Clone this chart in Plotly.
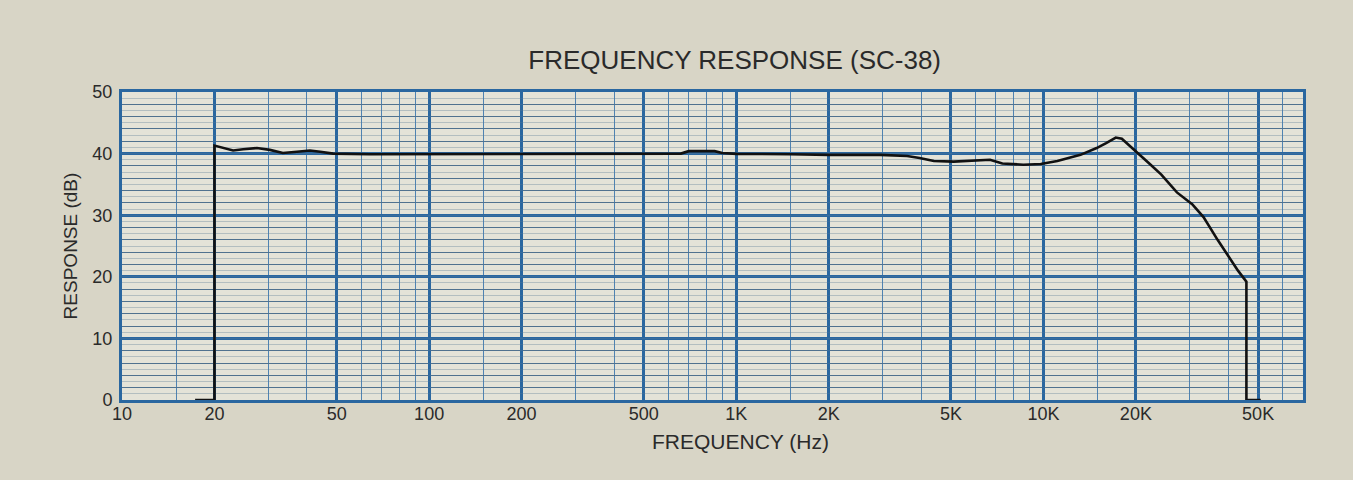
import numpy as np
import plotly.graph_objects as go

# ---- data ----
freq_hz = [17.3, 20, 20, 21.3, 23, 24.8, 27.5, 30.3, 33.4, 37.1, 40.9, 44.2, 48.7, 64,
           100, 200, 400, 600, 660, 700, 850, 900, 1000, 1500, 2000, 2940, 3600, 3950,
           4400, 5100, 6200, 6700, 7350, 8600, 9800, 11100, 13200, 14900, 16000, 17200,
           18000, 20100, 22200, 24200, 27200, 30500, 33200, 36900, 40800, 43000, 45800,
           45800, 51000]
response_db = [0, 0, 41.3, 40.9, 40.5, 40.7, 40.9, 40.6, 40.1, 40.3, 40.5, 40.3, 40.0, 39.9,
               39.9, 39.9, 39.9, 39.9, 40.0, 40.4, 40.4, 40.1, 39.95, 39.9, 39.8, 39.8, 39.6, 39.3,
               38.8, 38.7, 39.0, 39.0, 38.4, 38.2, 38.3, 38.8, 39.8, 40.9, 41.7, 42.6,
               42.4, 40.3, 38.3, 36.6, 33.7, 31.8, 29.7, 26.0, 22.7, 21.0, 19.2,
               0, 0]

x_major_vals = [10, 20, 50, 100, 200, 500, 1000, 2000, 5000, 10000, 20000, 50000]
x_major_text = ["10", "20", "50", "100", "200", "500", "1K", "2K", "5K", "10K", "20K", "50K"]
x_minor_vals = [m * d for d in (10, 100, 1000, 10000) for m in (1.5, 3, 4, 6, 7, 8, 9)]
y_major_vals = [0, 10, 20, 30, 40, 50]
x_range_hz = [10, 70000]

FONT = "Liberation Sans, Arial, sans-serif"
BLUE = "#2a67a0"
TXT = "#2a2a2a"
PAPER = "#d8d5c6"

fig = go.Figure()
fig.add_trace(go.Scatter(x=freq_hz, y=response_db, mode="lines",
                         line=dict(color="#111111", width=2.6), hoverinfo="x+y",
                         showlegend=False))
# faint 1 dB grid via an overlaid axis
fig.add_trace(go.Scatter(x=[x_range_hz[0]], y=[0], yaxis="y2", mode="markers",
                         marker=dict(opacity=0), showlegend=False, hoverinfo="skip"))

fig.update_layout(
    width=1353, height=480,
    paper_bgcolor=PAPER,
    plot_bgcolor="#e4e3d8",
    margin=dict(l=122, r=50, t=92, b=80),
    font=dict(family=FONT, color=TXT, size=18),
    title=dict(text="FREQUENCY RESPONSE (SC-38)", x=0.543, xanchor="center",
               y=0.875, yanchor="middle", xref="container", yref="container",
               font=dict(size=26, color=TXT)),
    xaxis=dict(type="log", range=[np.log10(x_range_hz[0]), np.log10(x_range_hz[1])],
               tickmode="array", tickvals=x_major_vals, ticktext=x_major_text,
               showgrid=True, gridcolor=BLUE, gridwidth=2.8,
               minor=dict(tickmode="array", tickvals=x_minor_vals, showgrid=True,
                          gridcolor="#4f83b2", gridwidth=1.2),
               showline=True, linecolor=BLUE, linewidth=3, mirror=True,
               zeroline=False, ticks="", ticklabelstandoff=-5),
    yaxis=dict(range=[0, 50], tickmode="array", tickvals=y_major_vals,
               showgrid=True, gridcolor=BLUE, gridwidth=2.8,
               minor=dict(dtick=2, showgrid=True, gridcolor="#4c6f8c", gridwidth=1.1),
               showline=True, linecolor=BLUE, linewidth=3, mirror=True,
               zeroline=False, ticks="", ticklabelstandoff=3,
               title=dict(text="RESPONSE (dB)", font=dict(size=19), standoff=10)),
    yaxis2=dict(range=[0, 50], overlaying="y", dtick=1, showgrid=True,
                gridcolor="rgba(90,120,150,0.35)", gridwidth=0.8,
                showticklabels=False, zeroline=False, layer="below traces"),
    annotations=[dict(text="FREQUENCY (Hz)", x=0.524, y=-0.135, xref="paper", yref="paper",
                      xanchor="center", yanchor="middle", showarrow=False,
                      font=dict(size=21, color=TXT))],
)

fig.write_html("out.html", config={"displayModeBar": False},
               post_script="document.body.style.margin='0';"
                           "document.body.style.background='%s';" % PAPER)
